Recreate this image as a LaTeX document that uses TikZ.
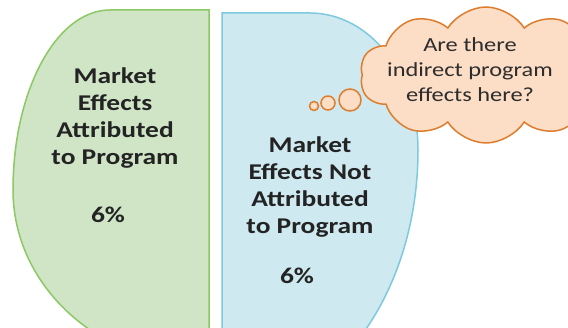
\documentclass[tikz,border=0pt]{standalone}
\usepackage{fontspec}
\setmainfont{Carlito}[FakeStretch=1.22]
\usetikzlibrary{shapes.symbols}
\definecolor{gfill}{RGB}{207,229,198}
\definecolor{gline}{RGB}{140,200,100}
\definecolor{bfill}{RGB}{206,233,239}
\definecolor{bline}{RGB}{125,202,222}
\definecolor{cfill}{RGB}{252,221,198}
\definecolor{cline}{RGB}{222,125,45}
\definecolor{txt}{RGB}{35,35,35}
\definecolor{ctxt}{RGB}{45,45,45}
\tikzset{
  maintext/.style={font=\bfseries\fontsize{22.5}{27}\selectfont, text=txt, align=center, inner sep=0pt},
  cloudtext/.style={font=\fontsize{20}{25}\selectfont, text=ctxt, align=center, inner sep=0pt},
  bubble/.style={circle, draw=cline, fill=cfill, line width=1.5pt, inner sep=0pt},
}
\begin{document}
\begin{tikzpicture}[x=1pt,y=-1pt]
\useasboundingbox (0,0) rectangle (568,328);
\clip (0,0) rectangle (568,328);
\fill[white] (0,0) rectangle (568,328);
% green shape
\draw[fill=gfill, draw=gline, line width=1.5pt]
  (209,10) -- (110,10) .. controls (56.4,10) and (13,90.6) .. (13,190)
  .. controls (13,287.2) and (100.7,366) .. (209,366) -- cycle;
% blue shape
\draw[fill=bfill, draw=bline, line width=1.5pt]
  (222,13) -- (310,13) .. controls (369.6,13) and (418,74.3) .. (418,150)
  .. controls (418,295.8) and (330.3,414) .. (222,414) -- cycle;
% texts
\node[maintext] (g1) at (115,118) {Market\\Effects\\Attributed\\to Program};
\node[maintext] (g2) at (108,215) {6\%};
\node[maintext] (b1) at (310,187) {Market\\Effects Not\\Attributed\\to Program};
\node[maintext] (b2) at (297,276) {6\%};
% cloud
\node[cloud, cloud puffs=10, cloud puff arc=115, aspect=1.8, draw=cline, fill=cfill,
  line width=1.5pt, minimum width=252pt, minimum height=136pt, inner sep=0pt] (cl) at (486,75) {};
\node[cloudtext] (ct) at (470,70) {Are there\\indirect program\\effects here?};
\node[bubble, minimum size=22pt] (c3) at (350,100) {};
\node[bubble, minimum size=14pt] (c2) at (328,103) {};
\node[bubble, minimum size=9pt] (c1) at (314,106) {};
\end{tikzpicture}
\end{document}
